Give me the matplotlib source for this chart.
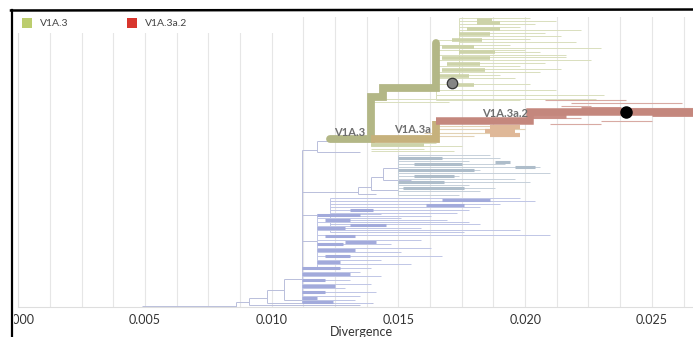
import matplotlib
matplotlib.use("Agg")
import matplotlib.pyplot as plt
from matplotlib.patches import Rectangle
from matplotlib.lines import Line2D
from matplotlib.ticker import MultipleLocator

plt.rcParams['font.family'] = ['Lato', 'DejaVu Sans']

# ---- tree data: divergence (x) and layout row (y, top = small) ----
# backbone branches
back_x0 = [0.0049, 0.0086, 0.0086, 0.0091, 0.0091, 0.0098, 0.0098, 0.0105, 0.0105,
           0.0112, 0.0112, 0.0112, 0.0112, 0.0118, 0.0118, 0.0134, 0.0134, 0.0139,
           0.0139, 0.0144, 0.0144]
back_x1 = [0.0086, 0.0091, 0.0125, 0.0098, 0.0135, 0.0105, 0.0140, 0.0112, 0.0131,
           0.0118, 0.0123, 0.0134, 0.0118, 0.0123, 0.0135, 0.0139, 0.0141, 0.0144,
           0.0150, 0.0150, 0.0155]
back_row = [306, 302, 307, 298, 305, 290, 303, 279, 300,
            241, 215, 192, 150, 141, 152, 187, 194, 177,
            190, 168, 180]
back_vx = [0.0086, 0.0091, 0.0098, 0.0105, 0.0112, 0.0118, 0.0134, 0.0139, 0.0144]
back_v0 = [302, 298, 290, 279, 150, 141, 187, 177, 168]
back_v1 = [307, 305, 303, 300, 303, 152, 194, 190, 180]

# green clade (V1A.3 descendants)
green_sub_node = 0.0174
green_sub_rows = [18, 21, 24, 27, 30, 33, 36, 39, 42, 48, 52, 57, 63, 69, 75]
green_sub_ends = [0.0202, 0.0212, 0.0204, 0.0198, 0.0222, 0.0208, 0.0214, 0.0202,
                  0.0220, 0.0230, 0.0206, 0.0216, 0.0208, 0.0214, 0.0190]
green_node = 0.0165
green_rows = [40, 45, 50, 55, 60, 66, 72, 78, 84, 90, 95, 100]
green_ends = [0.0174, 0.0194, 0.0200, 0.0216, 0.0226, 0.0198, 0.0206, 0.0196,
              0.0202, 0.0212, 0.0231, 0.0198]
green_low_rows = [99, 102, 143, 146, 149, 151]
green_low_x0 = [0.0144, 0.0139, 0.0139, 0.0139, 0.0139, 0.0139]
green_low_x1 = [0.0228, 0.0170, 0.0165, 0.0175, 0.0160, 0.0172]
green_band_row = [20, 23, 29, 34, 40, 47, 52, 58, 64, 70, 76, 85, 145]
green_band_x0 = [0.0181, 0.0181, 0.0177, 0.0174, 0.0171, 0.0167, 0.0174, 0.0167,
                 0.0169, 0.0167, 0.0165, 0.0171, 0.0139]
green_band_x1 = [0.0187, 0.0190, 0.0190, 0.0186, 0.0183, 0.0180, 0.0188, 0.0186,
                 0.0182, 0.0184, 0.0178, 0.0180, 0.0160]

# highlighted lineages
v1a3_x = [0.0123, 0.0139, 0.0139, 0.0144, 0.0144, 0.0165, 0.0165]
v1a3_row = [139, 139, 97, 97, 88, 88, 43]
v1a3a_x = [0.0139, 0.0165, 0.0165]
v1a3a_row = [139, 139, 121]
v1a3a2_x = [0.0165, 0.0202, 0.0202, 0.0272]
v1a3a2_row = [121, 121, 112, 112]

# red (V1A.3a.2) extra branches
red_row = [103, 100, 118, 121, 124, 115, 108, 106]
red_x0 = [0.0218, 0.0208, 0.0202, 0.0230, 0.0210, 0.0202, 0.0240, 0.0214]
red_x1 = [0.0262, 0.0240, 0.0222, 0.0250, 0.0230, 0.0214, 0.0268, 0.0226]
red_band_row = [109, 114, 116]
red_band_x0 = [0.0222, 0.0250, 0.0202]
red_band_x1 = [0.0238, 0.0272, 0.0216]

# tan / orange (V1A.3a other)
tan_row = [126, 129, 133, 136]
tan_x0 = [0.0165, 0.0165, 0.0160, 0.0150]
tan_x1 = [0.0190, 0.0200, 0.0188, 0.0180]
orange_row = [127, 131, 135]
orange_x0 = [0.0186, 0.0184, 0.0186]
orange_x1 = [0.0198, 0.0196, 0.0198]

# steel-blue clade
steel_node = 0.0150
steel_rows = [155, 158, 161, 164, 167, 170, 173, 176, 179, 182, 185, 188, 191, 195]
steel_ends = [0.0186, 0.0190, 0.0178, 0.0192, 0.0206, 0.0182, 0.0210, 0.0174,
              0.0196, 0.0202, 0.0178, 0.0188, 0.0182, 0.0174]
steel_band_row = [158, 164, 170, 176, 182, 188, 162, 167]
steel_band_x0 = [0.0150, 0.0156, 0.0150, 0.0156, 0.0150, 0.0152, 0.0188, 0.0196]
steel_band_x1 = [0.0167, 0.0175, 0.0180, 0.0172, 0.0168, 0.0176, 0.0194, 0.0204]

# blue clades
blue_a_node = 0.0123
blue_a_rows = [198, 201, 204, 207, 210, 213, 216, 220, 224, 228, 232]
blue_a_ends = [0.0198, 0.0204, 0.0190, 0.0182, 0.0178, 0.0173, 0.0163, 0.0169,
               0.0182, 0.0159, 0.0176]
blue_b_node = 0.0118
blue_b_rows = [214, 218, 222, 226, 230, 235, 240, 244, 248, 252, 256, 260, 264, 268]
blue_b_ends = [0.0143, 0.0151, 0.0178, 0.0143, 0.0198, 0.0210, 0.0159, 0.0147,
               0.0163, 0.0151, 0.0167, 0.0143, 0.0155, 0.0139]
blue_c_node = 0.0112
blue_c_rows = [272, 276, 280, 284, 288, 292, 296, 300, 303]
blue_c_ends = [0.0135, 0.0143, 0.0131, 0.0139, 0.0129, 0.0141, 0.0135, 0.0133, 0.0139]
blue_band_row = [200, 205, 210, 215, 220, 225, 228, 236, 242, 244, 250, 256, 262,
                 268, 274, 280, 286, 292, 298, 302]
blue_band_x0 = [0.0167, 0.0161, 0.0131, 0.0118, 0.0121, 0.0131, 0.0118, 0.0121,
                0.0129, 0.0118, 0.0118, 0.0121, 0.0118, 0.0112, 0.0112, 0.0112,
                0.0112, 0.0112, 0.0112, 0.0112]
blue_band_x1 = [0.0186, 0.0176, 0.0140, 0.0135, 0.0131, 0.0145, 0.0129, 0.0133,
                0.0141, 0.0128, 0.0133, 0.0131, 0.0127, 0.0127, 0.0131, 0.0121,
                0.0125, 0.0121, 0.0118, 0.0124]

# highlighted samples
grey_dot = (0.0171, 83)
black_dot = (0.0240, 112)

legend_names = ['V1A.3', 'V1A.3a.2']
legend_colors = ['#bccd6e', '#d8352d']
tick_values = [0.000, 0.005, 0.010, 0.015, 0.020, 0.025]


def draw_clade(ax, node, rows, ends, color, lw=0.7):
    ax.vlines(node, min(rows), max(rows), color=color, lw=lw, zorder=2)
    ax.hlines(rows, node, ends, color=color, lw=lw, zorder=2)


fig = plt.figure(figsize=(6.93, 3.37), dpi=100)
ax = fig.add_axes([0.0264, 0.089, 0.991, 0.8605])

ax.set_xlim(0, 0.0271)
ax.set_ylim(307, 17)

# backbone
ax.hlines(back_row, back_x0, back_x1, color='#b9bedb', lw=0.7, zorder=2)
ax.vlines(back_vx, back_v0, back_v1, color='#b9bedb', lw=0.7, zorder=2)

# blue
draw_clade(ax, blue_a_node, blue_a_rows, blue_a_ends, '#c0c6e6')
draw_clade(ax, blue_b_node, blue_b_rows, blue_b_ends, '#c0c6e6')
draw_clade(ax, blue_c_node, blue_c_rows, blue_c_ends, '#c0c6e6')
ax.hlines(blue_band_row, blue_band_x0, blue_band_x1, color='#a2aadb', lw=2.2, zorder=3)

# steel blue
draw_clade(ax, steel_node, steel_rows, steel_ends, '#c6d0da')
ax.hlines(steel_band_row, steel_band_x0, steel_band_x1, color='#aebdca', lw=2.2, zorder=3)

# green
draw_clade(ax, green_sub_node, green_sub_rows, green_sub_ends, '#d9dfbd')
draw_clade(ax, green_node, green_rows, green_ends, '#d9dfbd')
ax.hlines(green_low_rows, green_low_x0, green_low_x1, color='#d9dfbd', lw=0.7, zorder=2)
ax.hlines(green_band_row, green_band_x0, green_band_x1, color='#cdd3a9', lw=2.6, zorder=3)

# tan / orange
ax.hlines(tan_row, tan_x0, tan_x1, color='#e2d2b4', lw=0.8, zorder=2)
ax.hlines(orange_row, orange_x0, orange_x1, color='#dfb898', lw=3.0, zorder=3)

# red
ax.hlines(red_row, red_x0, red_x1, color='#d8aaa3', lw=0.8, zorder=2)
ax.hlines(red_band_row, red_band_x0, red_band_x1, color='#c98e85', lw=3.5, zorder=3)

# highlighted lineages
ax.plot(v1a3_x, v1a3_row, color='#b3b786', lw=5.6, solid_capstyle='round',
        solid_joinstyle='miter', zorder=4)
ax.plot(v1a3a_x, v1a3a_row, color='#c6b17c', lw=5.6, solid_capstyle='butt',
        solid_joinstyle='miter', zorder=4)
ax.plot(v1a3a2_x, v1a3a2_row, color='#c4877d', lw=5.4, solid_capstyle='butt',
        solid_joinstyle='miter', zorder=4)

ax.plot(*grey_dot, 'o', ms=7.5, mfc='#858585', mec='#333333', mew=0.9, zorder=6)
ax.plot(*black_dot, 'o', ms=8, mfc='#000000', mec='#000000', zorder=6)

lab_kw = dict(color='#6e6e6e', fontsize=8, fontweight='bold', ha='right',
              va='baseline', zorder=5)
ax.text(0.0137, 136, 'V1A.3', **lab_kw)
ax.text(0.0163, 133, 'V1A.3a', **lab_kw)
ax.text(0.0201, 117, 'V1A.3a.2', **lab_kw)

# axes styling
ax.xaxis.set_major_locator(MultipleLocator(0.005))
ax.xaxis.set_minor_locator(MultipleLocator(0.00125))
ax.set_xticks(tick_values)
ax.set_xticklabels([f'{v:.3f}' for v in tick_values])
ax.tick_params(axis='x', which='both', length=0, pad=5, labelsize=9,
               labelcolor='#333333')
ax.set_yticks([])
ax.grid(axis='x', which='both', color='#e6e6e6', lw=0.8, zorder=0)
ax.set_axisbelow(True)
for side in ['top', 'right']:
    ax.spines[side].set_visible(False)
for side in ['left', 'bottom']:
    ax.spines[side].set_color('#dedede')
    ax.spines[side].set_linewidth(0.8)
ax.set_xlabel('Divergence', fontsize=9, color='#333333', labelpad=0)

# legend strip and outer frame
W, H = 693.0, 337.0
fig.patches.append(Rectangle((12 / W, 1 - 33 / H), 278 / W, 22 / H,
                             transform=fig.transFigure, facecolor='white',
                             edgecolor='none', zorder=5))
fig.patches.append(Rectangle((0, 0), 13.5 / W, 1, transform=fig.transFigure,
                             facecolor='white', edgecolor='none', zorder=5))
for i, (name, col) in enumerate(zip(legend_names, legend_colors)):
    x0 = (22 + 105 * i) / W
    fig.patches.append(Rectangle((x0, 1 - 28 / H), 10 / W, 10 / H,
                                 transform=fig.transFigure, facecolor=col,
                                 edgecolor='none', zorder=6))
    fig.text(x0 + 18 / W, 1 - 23 / H, name, fontsize=7.5, color='#444444',
             va='center', ha='left', zorder=6)

fig.lines.append(Line2D([11.7 / W, 11.7 / W], [0, 1 - 10 / H], color='black',
                        lw=1.6, transform=fig.transFigure, zorder=7))
fig.lines.append(Line2D([11 / W, 1], [1 - 10.5 / H, 1 - 9.5 / H], color='black',
                        lw=1.8, transform=fig.transFigure, zorder=7))

fig.savefig('out.png', dpi=100)
